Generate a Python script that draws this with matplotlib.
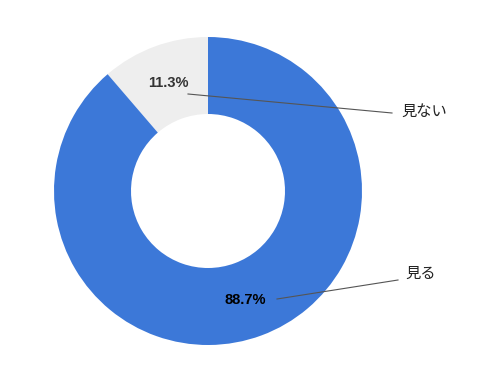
import matplotlib

matplotlib.use("Agg")
import matplotlib.pyplot as plt

LABELS = ["見ない", "見る"]
SHARES = [11.3, 88.7]
COLORS = ["#eeeeee", "#3c78d8"]

W, H = 500, 378
CX, CY = 208, H - 191
R_OUT, R_IN = 154, 77

plt.rcParams["font.family"] = ["Noto Sans CJK JP", "DejaVu Sans"]

fig = plt.figure(figsize=(W / 100, H / 100), dpi=100)
ax = fig.add_axes([0, 0, 1, 1])

ax.pie(SHARES, colors=COLORS, startangle=90, counterclock=True,
       center=(CX, CY), radius=R_OUT, frame=True,
       wedgeprops=dict(width=R_OUT - R_IN, edgecolor="none"))
ax.set_xlim(0, W)
ax.set_ylim(0, H)
ax.set_aspect("equal")
ax.axis("off")

# percent labels + leader lines
pct_pos = [(168, H - 83), (245, H - 300)]
pct_col = ["#333333", "#000000"]
line_pts = [((188, H - 94), (392, H - 113)), ((277, H - 299), (398, H - 280))]
name_pos = [(401, H - 111), (405, H - 273)]

for share, label, (px, py), pc, (a, b), (nx, ny) in zip(
        SHARES, LABELS, pct_pos, pct_col, line_pts, name_pos):
    ax.text(px, py, f"{share:.1f}%", ha="center", va="center", fontsize=10.5,
            fontweight="bold", color=pc, family=["Liberation Sans", "DejaVu Sans"])
    ax.plot([a[0], b[0]], [a[1], b[1]], color="#555555", linewidth=0.8)
    ax.text(nx, ny, label, ha="left", va="center", fontsize=11, color="#222222")

fig.savefig("out.png", dpi=100, facecolor="white")
